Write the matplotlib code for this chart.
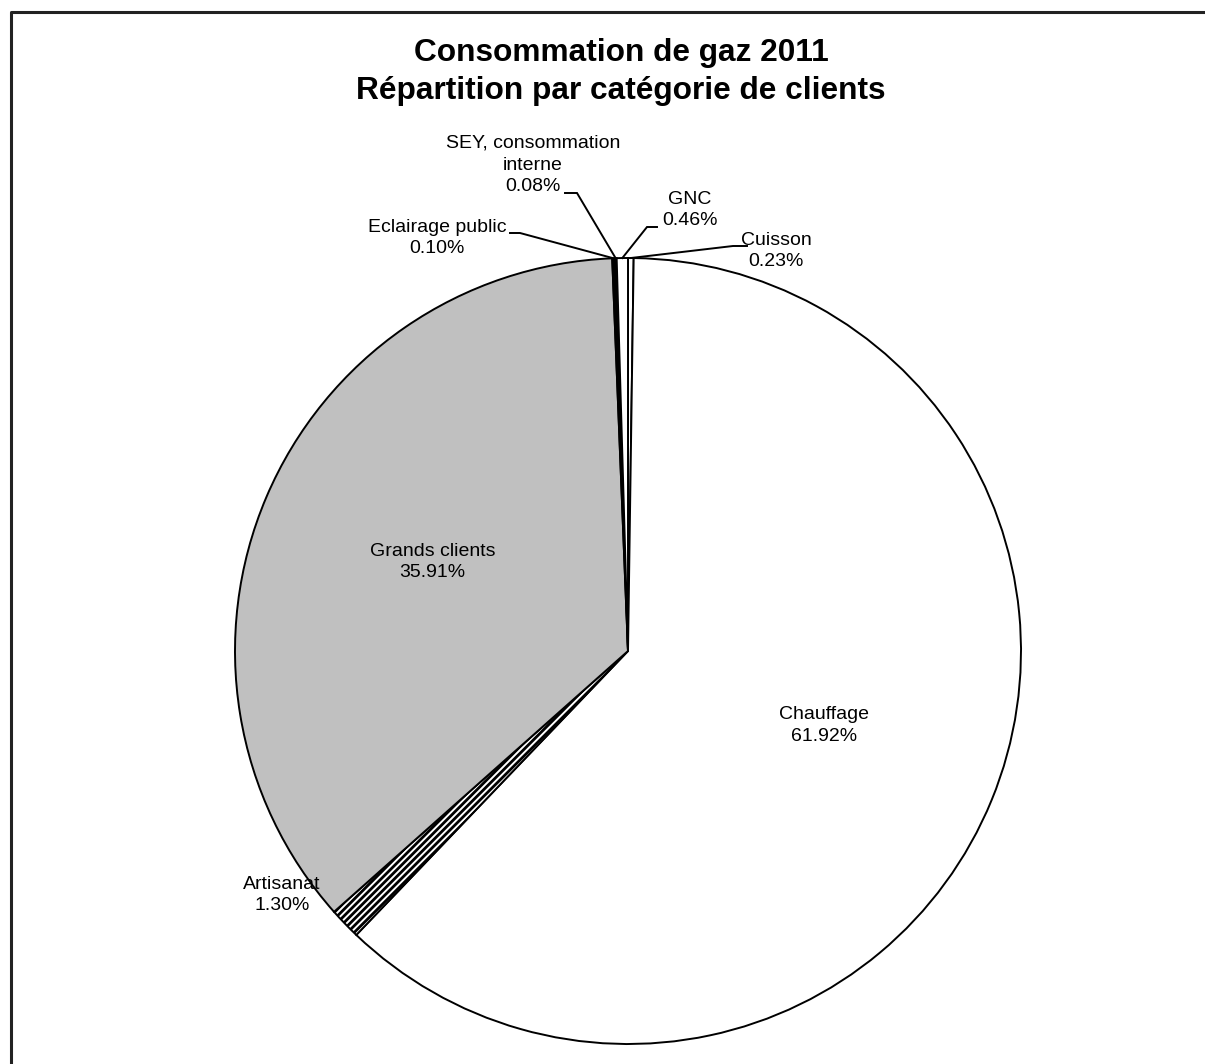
import numpy as np
import matplotlib
matplotlib.use("Agg")
import matplotlib.pyplot as plt

plt.rcParams['font.family'] = ['Liberation Sans', 'DejaVu Sans']
plt.rcParams['hatch.linewidth'] = 2.0

# data (clockwise from 12 o'clock)
categories = ["Cuisson", "Chauffage", "Artisanat", "Grands clients",
              "Eclairage public", "SEY, consommation\ninterne", "GNC"]
shares = [0.23, 61.92, 1.30, 35.91, 0.10, 0.08, 0.46]
colors = ["white", "white", "white", "#c0c0c0", "black", "white", "white"]
hatches = [None, None, "/////", None, None, None, None]

W, H = 1205, 1064
fig = plt.figure(figsize=(W / 100, H / 100), dpi=100)
ax = fig.add_axes([0, 0, 1, 1])

# frame (cropped at right and bottom)
ax.plot([11, 11, W + 5], [-5, H - 12, H - 12], color="#222222", lw=2.2, clip_on=False)

cx, cy, R = 628, H - 651, 393
wedges, _ = ax.pie(shares, colors=colors, startangle=90, counterclock=False,
                   center=(cx, cy), radius=R, frame=True,
                   wedgeprops=dict(edgecolor="black", linewidth=1.4))
for w, h in zip(wedges, hatches):
    if h:
        w.set_hatch(h)
ax.set_xlim(0, W)
ax.set_ylim(0, H)
ax.set_aspect("equal")
ax.axis("off")

fs = 14
ls = 1.35
labels = [f"{c}\n{v:.2f}%" for c, v in zip(categories, shares)]

# inside labels
for i, r in [(1, 0.54), (3, 0.54)]:
    w = wedges[i]
    a = np.deg2rad((w.theta1 + w.theta2) / 2)
    ax.text(cx + r * R * np.cos(a), cy + r * R * np.sin(a) + 6, labels[i],
            ha="center", va="center", fontsize=fs, linespacing=ls)

# Artisanat, outside without leader
ax.text(282, H - 895, labels[2], ha="center", va="center", fontsize=fs, linespacing=ls)

# outside labels with leader lines: (index, elbow, stub end, text pos)
leaders = [
    (0, (733, H - 246), (747, H - 246), (776, H - 251)),
    (6, (647, H - 227), (657, H - 227), (690, H - 210)),
    (5, (577, H - 193), (565, H - 193), (533, H - 165)),
    (4, (520, H - 233), (510, H - 233), (437, H - 238)),
]
for i, elbow, stub, tpos in leaders:
    w = wedges[i]
    a = np.deg2rad((w.theta1 + w.theta2) / 2)
    p0 = (cx + R * np.cos(a), cy + R * np.sin(a))
    ax.plot([p0[0], elbow[0], stub[0]], [p0[1], elbow[1], stub[1]],
            color="black", lw=1.4, solid_joinstyle="miter")
    ax.text(tpos[0], tpos[1], labels[i], ha="center", va="center",
            fontsize=fs, linespacing=ls)

ax.text(621, H - 72, "Consommation de gaz 2011\nRépartition par catégorie de clients",
        ha="center", va="center", fontsize=22.8, fontweight="bold", linespacing=1.32)

fig.savefig("out.png", dpi=100)
